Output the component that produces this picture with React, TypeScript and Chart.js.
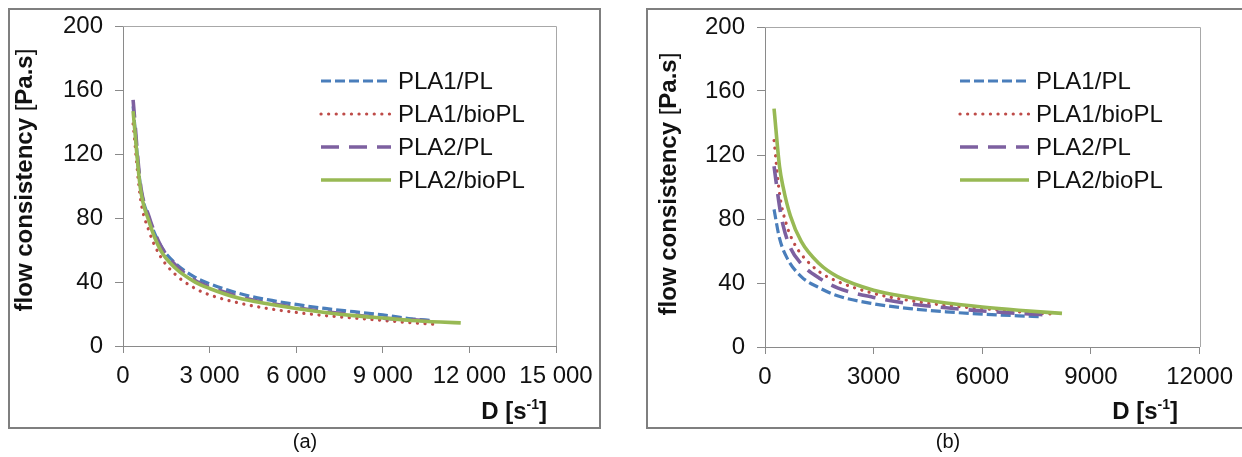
import { useEffect, useRef } from 'react';
import { Chart, registerables } from 'chart.js';

Chart.register(...registerables);

// ---------- shared ----------
const SERIES_LABELS = ['PLA1/PL', 'PLA1/bioPL', 'PLA2/PL', 'PLA2/bioPL'];
const SERIES_COLORS = ['#4a7ebb', '#be4b48', '#7d60a0', '#98b954'];
const Y_TICKS = [0, 40, 80, 120, 160, 200];

// ---------- panel (a) ----------
const A_X_TICK_LABELS = ['0', '3 000', '6 000', '9 000', '12 000', '15 000'];
const A_PLA1_PL_D = [350, 600, 900, 1300, 1800, 2500, 3000, 4000, 5000, 6000, 7000, 8000, 9000, 10000, 10700];
const A_PLA1_PL_K = [150, 101, 80, 63, 52, 43, 39, 33, 29, 26, 23.5, 21.5, 19.5, 17, 16];
const A_PLA1_BIOPL_D = [350, 600, 900, 1300, 1800, 2500, 3000, 4000, 5000, 6000, 7000, 8000, 9000, 10000, 10900];
const A_PLA1_BIOPL_K = [139, 93, 72, 56, 45, 36, 32, 27, 23.5, 21, 19, 17.5, 16, 14.5, 13.5];
const A_PLA2_PL_D = [350, 600, 900, 1300, 1800, 2500, 3000, 4000, 5000, 6000, 7000, 8000, 9000, 10000, 10700];
const A_PLA2_PL_K = [154, 102, 81, 63, 51, 41, 37, 31, 27, 24, 21.5, 19.5, 17.5, 16.5, 15.5];
const A_PLA2_BIOPL_D = [350, 600, 900, 1300, 1800, 2500, 3000, 4000, 5000, 6000, 7000, 8000, 9000, 10000, 11000, 11700];
const A_PLA2_BIOPL_K = [147, 99, 78, 60, 49, 40, 36, 30, 26.5, 23.5, 21, 19, 17.5, 16, 15, 14.5];

// ---------- panel (b) ----------
const B_X_TICK_LABELS = ['0', '3000', '6000', '9000', '12000'];
const B_PLA1_PL_D = [250, 400, 600, 1000, 1500, 2000, 3000, 4000, 5000, 6000, 7000, 7600];
const B_PLA1_PL_K = [86, 68, 56, 44, 37, 32, 27, 24, 22, 20.5, 19.5, 19];
const B_PLA1_BIOPL_D = [250, 400, 600, 800, 1000, 1500, 2000, 3000, 4000, 5000, 6000, 7000, 8000];
const B_PLA1_BIOPL_K = [129, 96, 76, 65, 58, 47, 41, 33.5, 29, 26, 24, 22, 20.5];
const B_PLA2_PL_D = [250, 400, 500, 700, 1000, 1500, 2000, 3000, 4000, 5000, 6000, 7000, 7900];
const B_PLA2_PL_K = [113, 88, 76, 62, 52, 43, 37, 31, 27, 24.5, 22.5, 21, 20];
const B_PLA2_BIOPL_D = [250, 400, 500, 700, 1000, 1500, 2000, 3000, 4000, 5000, 6000, 7000, 8200];
const B_PLA2_BIOPL_K = [149, 113, 100, 82, 66, 52, 44, 35.5, 31, 27.5, 25, 23, 21];

const FONT = '"Liberation Sans", Arial, Helvetica, sans-serif';
const TEXT = '#111';
const AXIS = '#8a8a8a';

const STYLES = [
  { dash: [10, 4], width: 3.2, cap: 'butt' },
  { dash: [0.1, 7.5], width: 3.2, cap: 'round' },
  { dash: [18, 10], width: 3.6, cap: 'butt' },
  { dash: [], width: 3.6, cap: 'butt' },
];

function pts(d: number[], k: number[]) {
  return d.map((x, i) => ({ x, y: k[i] }));
}

type Part = { t: string; bold: boolean; size: number; dy?: number };

function partFont(p: Part) {
  return `${p.bold ? 'bold ' : ''}${p.size}px ${FONT}`;
}

function measure(ctx: CanvasRenderingContext2D, parts: Part[]) {
  let w = 0;
  for (const p of parts) {
    ctx.font = partFont(p);
    w += ctx.measureText(p.t).width;
  }
  return w;
}

function drawParts(ctx: CanvasRenderingContext2D, parts: Part[], x0: number, y: number) {
  let x = x0;
  for (const p of parts) {
    ctx.font = partFont(p);
    ctx.fillText(p.t, x, y + (p.dy || 0));
    x += ctx.measureText(p.t).width;
  }
}

type PanelCfg = {
  series: { d: number[]; k: number[] }[];
  xMax: number;
  xLabels: string[];
  area: { left: number; top: number; right: number; bottom: number };
  legend: { x1: number; x2: number; y0: number; dy: number };
  yTitle: { cx: number; cy: number };
  xTitle: { right: number; baseline: number };
  width: number;
  height: number;
};

function makeDecor(cfg: PanelCfg) {
  return {
    id: 'decor',
    afterDraw(chart: any) {
      const ctx: CanvasRenderingContext2D = chart.ctx;
      const a = chart.chartArea;
      ctx.save();
      // plot-area frame (top and right)
      ctx.strokeStyle = '#a8a8a8';
      ctx.lineWidth = 1;
      ctx.beginPath();
      ctx.moveTo(Math.round(a.left), Math.round(a.top) + 0.5);
      ctx.lineTo(Math.round(a.right) + 0.5, Math.round(a.top) + 0.5);
      ctx.lineTo(Math.round(a.right) + 0.5, Math.round(a.bottom));
      ctx.stroke();

      // legend
      const L = cfg.legend;
      chart.data.datasets.forEach((ds: any, i: number) => {
        const y = L.y0 + i * L.dy;
        ctx.save();
        ctx.strokeStyle = ds.borderColor;
        ctx.lineWidth = ds.borderWidth;
        ctx.lineCap = ds.borderCapStyle;
        ctx.setLineDash(ds.borderDash);
        ctx.beginPath();
        ctx.moveTo(L.x1, y);
        ctx.lineTo(L.x2, y);
        ctx.stroke();
        ctx.restore();
        ctx.fillStyle = TEXT;
        ctx.font = `24px ${FONT}`;
        ctx.textBaseline = 'middle';
        ctx.textAlign = 'left';
        ctx.fillText(ds.label, L.x2 + 7, y + 1);
      });

      // y title (rotated, mixed weight)
      const yParts: Part[] = [
        { t: 'flow consistency ', bold: true, size: 24 },
        { t: '[', bold: false, size: 24 },
        { t: 'Pa.s', bold: true, size: 24 },
        { t: ']', bold: false, size: 24 },
      ];
      ctx.fillStyle = TEXT;
      ctx.textAlign = 'left';
      ctx.textBaseline = 'middle';
      const yw = measure(ctx, yParts);
      ctx.save();
      ctx.translate(cfg.yTitle.cx, cfg.yTitle.cy);
      ctx.rotate(-Math.PI / 2);
      drawParts(ctx, yParts, -yw / 2, 0);
      ctx.restore();

      // x title
      const xParts: Part[] = [
        { t: 'D [s', bold: true, size: 24 },
        { t: '-1', bold: true, size: 14, dy: -10 },
        { t: ']', bold: true, size: 24 },
      ];
      ctx.textBaseline = 'alphabetic';
      const xw = measure(ctx, xParts);
      drawParts(ctx, xParts, cfg.xTitle.right - xw, cfg.xTitle.baseline);
      ctx.restore();
    },
  };
}

function Panel({ cfg, left }: { cfg: PanelCfg; left: number }) {
  const ref = useRef<HTMLCanvasElement>(null);
  useEffect(() => {
    const A = cfg.area;
    const chart = new Chart(ref.current as HTMLCanvasElement, {
      type: 'line',
      data: {
        datasets: cfg.series.map((s, i) => ({
          label: SERIES_LABELS[i],
          data: pts(s.d, s.k),
          borderColor: SERIES_COLORS[i],
          backgroundColor: SERIES_COLORS[i],
          borderWidth: STYLES[i].width,
          borderDash: STYLES[i].dash,
          borderCapStyle: STYLES[i].cap as any,
          pointRadius: 0,
          fill: false,
          cubicInterpolationMode: 'monotone' as const,
          order: 4 - i,
        })),
      },
      options: {
        responsive: false,
        animation: false,
        devicePixelRatio: 1,
        layout: {
          padding: { left: 0, top: A.top, right: cfg.width - A.right, bottom: 0 },
        },
        plugins: { legend: { display: false }, tooltip: { enabled: false } },
        scales: {
          x: {
            type: 'linear',
            min: 0,
            max: cfg.xMax,
            afterFit: (s: any) => {
              s.height = cfg.height - A.bottom;
            },
            ticks: {
              stepSize: 3000,
              autoSkip: false,
              maxRotation: 0,
              padding: 9,
              color: TEXT,
              font: { family: FONT, size: 24 },
              callback: (_v: any, i: number) => cfg.xLabels[i],
            },
            grid: { display: true, drawOnChartArea: false, drawTicks: true, tickLength: 7, color: AXIS },
            border: { display: true, color: AXIS, width: 1 },
          },
          y: {
            type: 'linear',
            min: Y_TICKS[0],
            max: Y_TICKS[Y_TICKS.length - 1],
            afterFit: (s: any) => {
              s.width = A.left;
            },
            ticks: {
              stepSize: 40,
              autoSkip: false,
              padding: 12,
              color: TEXT,
              font: { family: FONT, size: 24 },
            },
            grid: { display: true, drawOnChartArea: false, drawTicks: true, tickLength: 8, color: AXIS },
            border: { display: true, color: AXIS, width: 1 },
          },
        },
      },
      plugins: [makeDecor(cfg)],
    } as any);
    return () => chart.destroy();
  }, [cfg]);
  return (
    <canvas
      ref={ref}
      width={cfg.width}
      height={cfg.height}
      style={{ position: 'absolute', left, top: 0, width: cfg.width, height: cfg.height }}
    />
  );
}

const CFG_A: PanelCfg = {
  series: [
    { d: A_PLA1_PL_D, k: A_PLA1_PL_K },
    { d: A_PLA1_BIOPL_D, k: A_PLA1_BIOPL_K },
    { d: A_PLA2_PL_D, k: A_PLA2_PL_K },
    { d: A_PLA2_BIOPL_D, k: A_PLA2_BIOPL_K },
  ],
  xMax: 15000,
  xLabels: A_X_TICK_LABELS,
  area: { left: 123, top: 26, right: 556, bottom: 346 },
  legend: { x1: 321, x2: 391, y0: 81, dy: 33 },
  yTitle: { cx: 25, cy: 180 },
  xTitle: { right: 547, baseline: 419 },
  width: 620,
  height: 457,
};

const CFG_B: PanelCfg = {
  series: [
    { d: B_PLA1_PL_D, k: B_PLA1_PL_K },
    { d: B_PLA1_BIOPL_D, k: B_PLA1_BIOPL_K },
    { d: B_PLA2_PL_D, k: B_PLA2_PL_K },
    { d: B_PLA2_BIOPL_D, k: B_PLA2_BIOPL_K },
  ],
  xMax: 12000,
  xLabels: B_X_TICK_LABELS,
  area: { left: 143, top: 27, right: 583, bottom: 347 },
  legend: { x1: 338, x2: 407, y0: 81, dy: 33 },
  yTitle: { cx: 47, cy: 184 },
  xTitle: { right: 556, baseline: 419 },
  width: 620,
  height: 457,
};

export default function App() {
  return (
    <div
      style={{
        position: 'fixed',
        left: 0,
        top: 0,
        width: 1242,
        height: 457,
        background: '#fff',
        overflow: 'hidden',
        fontFamily: FONT,
      }}
    >
      <div
        style={{
          position: 'absolute',
          left: 8,
          top: 8,
          width: 593,
          height: 421,
          border: '2px solid #7f7f7f',
          boxSizing: 'border-box',
        }}
      />
      <div
        style={{
          position: 'absolute',
          left: 646,
          top: 8,
          width: 620,
          height: 421,
          border: '2px solid #7f7f7f',
          borderRight: 'none',
          boxSizing: 'border-box',
        }}
      />
      <Panel cfg={CFG_A} left={0} />
      <Panel cfg={CFG_B} left={622} />
      <div
        style={{
          position: 'absolute',
          left: 255,
          width: 100,
          top: 429,
          textAlign: 'center',
          fontSize: 20,
          lineHeight: '24px',
          color: TEXT,
        }}
      >
        (a)
      </div>
      <div
        style={{
          position: 'absolute',
          left: 898,
          width: 100,
          top: 429,
          textAlign: 'center',
          fontSize: 20,
          lineHeight: '24px',
          color: TEXT,
        }}
      >
        (b)
      </div>
    </div>
  );
}
